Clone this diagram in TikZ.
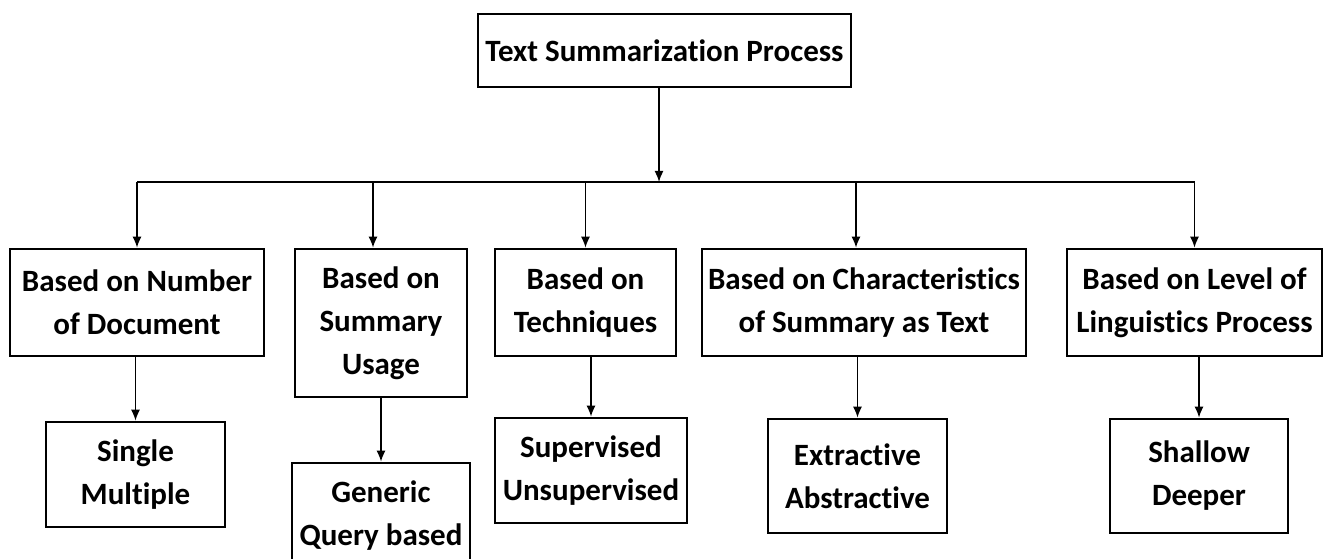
\documentclass[tikz,border=0pt]{standalone}
\usepackage{fontspec}
\setmainfont{Carlito}[Ligatures={NoCommon}]
\usetikzlibrary{arrows.meta}

\begin{document}
\begin{tikzpicture}[x=1pt,y=-1pt]
      \tikzstyle{boite}=[draw, line width=2.6pt, align=center, inner sep=0pt,
        font=\fontsize{31}{43}\selectfont\bfseries]
      \tikzstyle{fleche}=[->,>={Latex[length=11pt,width=9pt]},line width=1.6pt]
      \useasboundingbox (0,0) rectangle (1323,559);

      \node[boite, minimum width=373, minimum height=73] (Proc) at (664.5,50.5) {Text Summarization Process};

      \node[boite, minimum width=254, minimum height=107] (Nomb) at (137,302.5) {Based on Number\\of Document};
      \node[boite, minimum width=172, minimum height=148] (Usag) at (381,323) {Based on\\Summary\\Usage};
      \node[boite, minimum width=181, minimum height=107] (Tech) at (585.5,302.5) {Based on\\Techniques};
      \node[boite, minimum width=324, minimum height=107] (Cara) at (864,302.5) {Based on Characteristics\\of Summary as Text};
      \node[boite, minimum width=255, minimum height=107] (Ling) at (1194.5,302.5) {Based on Level of\\Linguistics Process};

      \node[boite, minimum width=179, minimum height=105] (Sing) at (135.5,474.5) {Single\\Multiple};
      \node[boite, minimum width=178, minimum height=105] (Gene) at (381,515.5) {Generic\\Query based};
      \node[boite, minimum width=192, minimum height=105] (Supe) at (591,470.5) {Supervised\\Unsupervised};
      \node[boite, minimum width=179, minimum height=114] (Extr) at (857.5,476) {Extractive\\Abstractive};
      \node[boite, minimum width=178, minimum height=114] (Shal) at (1199,476) {Shallow\\Deeper};

      \coordinate (Bus) at (659,182);
      \coordinate (UsagIn) at ([xshift=-8pt]Usag.north);
      \coordinate (CaraIn) at ([xshift=-8pt]Cara.north);
      \draw[fleche] (Bus |- Proc.south) -- (Bus);
      \draw[line width=1.6pt] (Bus -| Nomb.north) -- (Bus -| Ling.north);
      \draw[fleche] (Bus -| Nomb.north) -- (Nomb.north);
      \draw[fleche] (Bus -| UsagIn) -- (UsagIn);
      \draw[fleche] (Bus -| Tech.north) -- (Tech.north);
      \draw[fleche] (Bus -| CaraIn) -- (CaraIn);
      \draw[fleche] (Bus -| Ling.north) -- (Ling.north);

      \draw[fleche] (Sing.north |- Nomb.south) -- (Sing.north);
      \draw[fleche] (Gene.north |- Usag.south) -- (Gene.north);
      \draw[fleche] (Supe.north |- Tech.south) -- (Supe.north);
      \draw[fleche] (Extr.north |- Cara.south) -- (Extr.north);
      \draw[fleche] (Shal.north |- Ling.south) -- (Shal.north);

    \end{tikzpicture}
\end{document}
